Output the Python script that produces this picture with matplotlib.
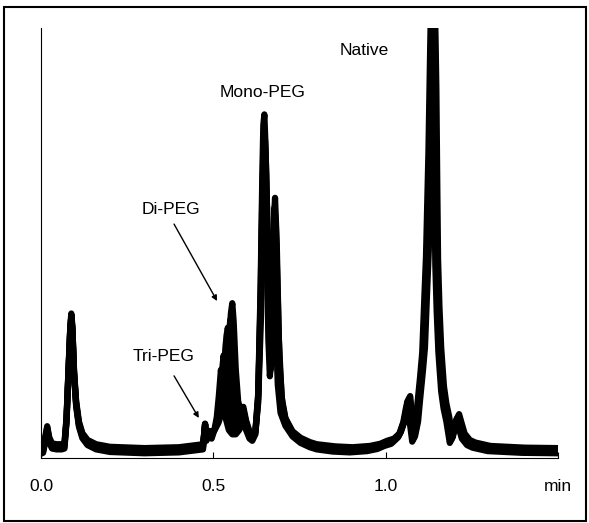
import numpy as np
import matplotlib.pyplot as plt
from matplotlib.patches import Rectangle

plt.rcParams['font.family'] = ['Liberation Sans', 'DejaVu Sans']

# shared part of the run before the PEG conjugates elute (min, signal)
t_early = [0.000, 0.006, 0.012, 0.018, 0.024, 0.032, 0.045, 0.060, 0.068, 0.074,
           0.080, 0.085, 0.088, 0.091, 0.096, 0.102, 0.110, 0.120, 0.135, 0.160,
           0.200, 0.300, 0.400, 0.450, 0.470]
y_early = [1.0, 1.2, 3.6, 6.2, 3.6, 2.2, 2.0, 2.0, 2.2, 8.2,
           20.0, 29.5, 32.4, 29.5, 19.0, 12.0, 7.3, 4.6, 3.0, 2.0,
           1.4, 1.1, 1.3, 1.8, 2.0]

# Tri-, Di- and Mono-PEG region, one list per injection
t_run1 = [0.470, 0.476, 0.480, 0.488, 0.495, 0.503, 0.510, 0.516, 0.522, 0.528,
          0.535, 0.545, 0.555, 0.565, 0.575, 0.585, 0.595, 0.605, 0.613, 0.622,
          0.630, 0.637, 0.642, 0.646, 0.650, 0.655, 0.660, 0.664, 0.668, 0.672,
          0.676, 0.681, 0.687, 0.695, 0.709, 0.730, 0.753, 0.780, 0.800]
y_run1 = [2.0, 8.0, 4.0, 6.0, 4.5, 6.5, 9.5, 14.5, 20.5, 14.5,
          9.5, 6.5, 5.5, 5.5, 6.5, 8.5, 6.5, 4.5, 4.0, 5.5,
          13.5, 37.0, 61.0, 75.0, 69.0, 47.0, 27.0, 19.0, 23.0, 37.0,
          43.0, 31.0, 17.0, 10.5, 7.5, 5.0, 3.5, 2.5, 2.0]

t_run2 = [0.470, 0.476, 0.480, 0.488, 0.495, 0.503, 0.512, 0.520, 0.526, 0.530,
          0.535, 0.542, 0.550, 0.560, 0.572, 0.585, 0.595, 0.605, 0.613, 0.622,
          0.630, 0.637, 0.642, 0.645, 0.648, 0.652, 0.657, 0.662, 0.666, 0.670,
          0.674, 0.678, 0.683, 0.689, 0.697, 0.709, 0.730, 0.753, 0.780, 0.800]
y_run2 = [2.0, 7.5, 4.0, 5.5, 5.0, 6.0, 8.5, 14.5, 20.5, 23.5,
          18.5, 11.5, 7.5, 6.0, 7.0, 9.5, 7.0, 4.5, 4.0, 5.5,
          14.5, 39.0, 65.0, 77.0, 79.5, 71.0, 44.0, 25.0, 20.0, 29.0,
          47.0, 54.0, 41.0, 23.0, 12.5, 8.0, 5.0, 3.5, 2.5, 2.0]

t_run3 = [0.470, 0.476, 0.480, 0.488, 0.495, 0.505, 0.515, 0.525, 0.533, 0.538,
          0.542, 0.546, 0.552, 0.560, 0.570, 0.580, 0.587, 0.595, 0.605, 0.613,
          0.622, 0.630, 0.638, 0.643, 0.647, 0.650, 0.654, 0.659, 0.664, 0.668,
          0.672, 0.676, 0.679, 0.684, 0.690, 0.698, 0.709, 0.730, 0.753, 0.780,
          0.800]
y_run3 = [2.0, 7.0, 4.0, 5.5, 5.0, 6.0, 8.0, 12.5, 21.5, 27.5,
          29.5, 26.5, 17.5, 10.5, 8.5, 10.0, 10.5, 7.5, 5.0, 4.0,
          5.5, 13.5, 37.0, 61.0, 71.0, 73.0, 65.0, 41.0, 23.0, 21.0,
          35.0, 55.0, 59.7, 49.0, 27.0, 13.5, 8.5, 5.0, 3.5, 2.5,
          2.0]

t_run4 = [0.470, 0.476, 0.480, 0.488, 0.495, 0.505, 0.515, 0.525, 0.535, 0.545,
          0.551, 0.555, 0.559, 0.565, 0.572, 0.580, 0.587, 0.595, 0.605, 0.613,
          0.622, 0.630, 0.638, 0.644, 0.649, 0.652, 0.656, 0.661, 0.666, 0.670,
          0.674, 0.677, 0.681, 0.686, 0.692, 0.700, 0.709, 0.730, 0.753, 0.780,
          0.800]
y_run4 = [2.0, 6.5, 3.5, 5.0, 4.5, 5.5, 7.0, 9.5, 15.5, 25.5,
          32.5, 34.8, 30.5, 19.5, 12.0, 9.5, 10.7, 7.5, 5.0, 4.0,
          5.0, 11.5, 31.0, 54.0, 63.0, 65.0, 57.0, 35.0, 21.0, 23.0,
          43.0, 57.0, 54.0, 39.0, 21.0, 11.5, 8.0, 5.0, 3.5, 2.5,
          2.0]

# further injections, Di-PEG window only
t_di5 = [0.500, 0.510, 0.520, 0.528, 0.533, 0.536, 0.540, 0.546, 0.555, 0.565,
         0.580, 0.595, 0.610]
y_di5 = [5.5, 7.5, 11.0, 17.0, 23.0, 26.5, 23.0, 15.0, 9.0, 7.0,
         9.5, 7.0, 4.5]
t_di6 = [0.500, 0.512, 0.524, 0.534, 0.542, 0.548, 0.552, 0.558, 0.566, 0.575,
         0.587, 0.600, 0.610]
y_di6 = [5.5, 7.5, 10.5, 16.0, 25.0, 31.5, 32.0, 26.0, 15.0, 10.0,
         10.5, 6.0, 4.5]

# shared part after the conjugates, including the native protein
t_late = [0.800, 0.850, 0.900, 0.950, 0.980, 1.000, 1.020, 1.040, 1.055, 1.062,
          1.067, 1.072, 1.081, 1.090, 1.096, 1.104, 1.110, 1.116, 1.121, 1.128,
          1.133, 1.137, 1.141, 1.143, 1.146, 1.148, 1.152, 1.157, 1.165, 1.172,
          1.180, 1.190, 1.200, 1.209, 1.216, 1.225, 1.240, 1.256, 1.300, 1.400,
          1.500]
y_late = [2.0, 1.5, 1.3, 1.6, 2.1, 2.8, 3.3, 4.8, 8.3, 11.3,
          13.2, 9.5, 3.8, 7.3, 12.5, 19.0, 24.5, 37.0, 47.0, 71.0,
          95.0, 112.0, 95.0, 85.0, 60.0, 45.0, 34.0, 24.5, 15.5, 11.5,
          8.5, 3.5, 6.5, 9.0, 7.0, 4.5, 3.0, 2.4, 1.6, 1.2,
          1.1]

run_times = [t_run1, t_run2, t_run3, t_run4]
run_signals = [y_run1, y_run2, y_run3, y_run4]
baseline_offset = [0.0, 0.4, 0.8, 1.2]
# retention drift of the late peaks from one injection to the next (min)
late_drift = [-0.004, -0.0013, 0.0013, 0.004]

fig = plt.figure(figsize=(5.89, 5.23), dpi=100)
ax = fig.add_axes([0.0696, 0.1243, 0.8778, 0.8222])

for t_mid, y_mid, off, drift in zip(run_times, run_signals, baseline_offset, late_drift):
    t = np.concatenate([t_early, t_mid[1:], np.array(t_late[1:-1]) + drift, t_late[-1:]])
    y = np.concatenate([y_early, y_mid[1:], y_late[1:]]) + off
    ax.plot(t, y, color='black', lw=4.5, solid_joinstyle='round')

for t_di, y_di in [(t_di5, y_di5), (t_di6, y_di6)]:
    ax.plot(t_di, np.array(y_di) + 0.6, color='black', lw=4.0, solid_joinstyle='round')

ax.set_xlim(0, 1.5)
ax.set_ylim(0, 100)
ax.set_xticks([0, 0.5, 1.0, 1.5])
ax.set_xticklabels(['0.0', '0.5', '1.0', 'min'])
ax.tick_params(axis='x', direction='in', length=4, width=0.8, pad=15, labelsize=12.5)
ax.set_yticks([])
for side in ['top', 'right']:
    ax.spines[side].set_visible(False)
for side in ['left', 'bottom']:
    ax.spines[side].set_linewidth(0.8)

# peak labels
ax.text(0.937, 94.7, 'Native', ha='center', va='center', fontsize=12.5)
ax.text(0.644, 84.9, 'Mono-PEG', ha='center', va='center', fontsize=12.5)
ax.text(0.377, 57.7, 'Di-PEG', ha='center', va='center', fontsize=12.5)
ax.text(0.357, 23.5, 'Tri-PEG', ha='center', va='center', fontsize=12.5)
arrow = dict(arrowstyle='-|>', color='black', lw=1.0, mutation_scale=8,
             shrinkA=0, shrinkB=0)
ax.annotate('', xy=(0.511, 36.5), xytext=(0.386, 54.4), arrowprops=arrow)
ax.annotate('', xy=(0.458, 9.3), xytext=(0.386, 19.1), arrowprops=arrow)

# frame round the whole figure
fig.patches.append(Rectangle((0.0068, 0.004), 0.988, 0.983, transform=fig.transFigure,
                             fill=False, edgecolor='black', lw=1.5))

fig.savefig('out.png', dpi=100)
